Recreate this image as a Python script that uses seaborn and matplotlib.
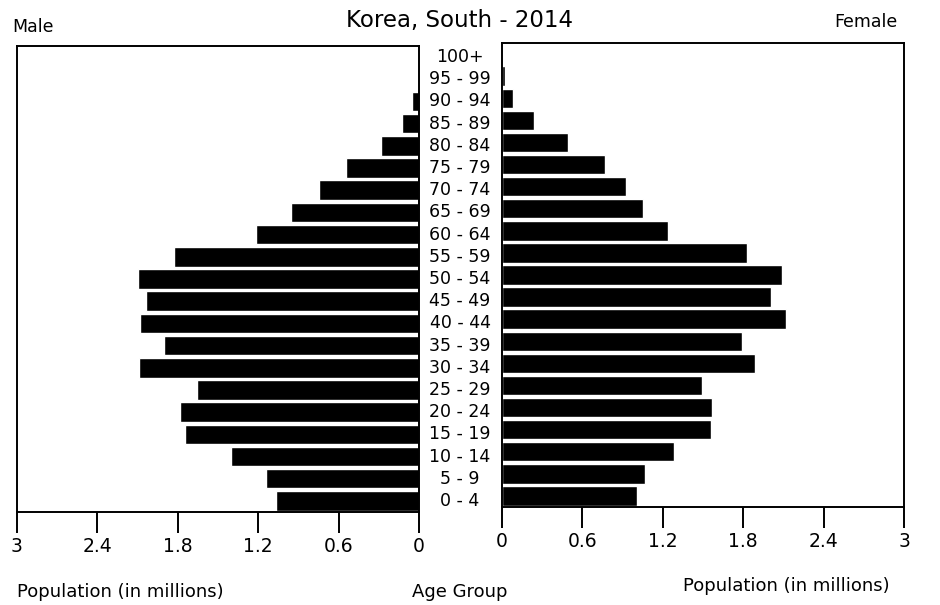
import matplotlib
matplotlib.use("Agg")
import matplotlib.pyplot as plt
import matplotlib.transforms as mtransforms
import seaborn as sns

# Population pyramid data (millions), youngest first
age_groups = ["0 - 4", "5 - 9", "10 - 14", "15 - 19", "20 - 24", "25 - 29",
              "30 - 34", "35 - 39", "40 - 44", "45 - 49", "50 - 54", "55 - 59",
              "60 - 64", "65 - 69", "70 - 74", "75 - 79", "80 - 84", "85 - 89",
              "90 - 94", "95 - 99", "100+"]
male = [1.07, 1.14, 1.40, 1.75, 1.78, 1.66, 2.09, 1.90, 2.08, 2.04, 2.10, 1.83,
        1.22, 0.955, 0.746, 0.545, 0.286, 0.125, 0.054, 0.008, 0.001]
female = [1.01, 1.07, 1.28, 1.56, 1.57, 1.49, 1.89, 1.79, 2.12, 2.01, 2.09, 1.83,
          1.24, 1.05, 0.925, 0.77, 0.49, 0.24, 0.08, 0.02, 0.003]
tick_vals = [0, 0.6, 1.2, 1.8, 2.4, 3]
tick_labels = ["0", "0.6", "1.2", "1.8", "2.4", "3"]

sns.set_style("ticks")
plt.rcParams['font.family'] = ['DejaVu Sans']
plt.rcParams['text.color'] = 'black'
plt.rcParams['xtick.color'] = 'black'
plt.rcParams['xtick.labelcolor'] = 'black'

order = age_groups[::-1]  # top row is 100+

fig = plt.figure(figsize=(9.4, 6.05), dpi=100)
ax_m = fig.add_axes([17 / 940, 1 - 512 / 605, 402 / 940, 466 / 605])
ax_f = fig.add_axes([502 / 940, 1 - 507 / 605, 402 / 940, 464 / 605])

sns.barplot(x=male, y=age_groups, order=order, orient="h", color="black",
            width=0.88, ax=ax_m, saturation=1)
sns.barplot(x=female, y=age_groups, order=order, orient="h", color="black",
            width=0.88, ax=ax_f, saturation=1)

ax_m.set_xlim(3, 0)
ax_f.set_xlim(0, 3)
for ax in (ax_m, ax_f):
    ax.set_ylim(len(age_groups) - 0.5, -0.5)
    ax.set_xticks(tick_vals)
    ax.set_xticklabels(tick_labels)
    ax.set_yticks([])
    ax.set_xlabel("")
    ax.set_ylabel("")
    ax.tick_params(axis="x", length=15, width=1.4, labelsize=13.5, pad=3, color="black")
    for sp in ax.spines.values():
        sp.set_visible(True)
        sp.set_linewidth(1.4)
        sp.set_color("black")

# age group labels in the gap between the two panels
trans = mtransforms.blended_transform_factory(fig.transFigure, ax_m.transData)
for i, lab in enumerate(order):
    ax_m.text(460 / 940, i, lab, transform=trans, ha="center", va="center",
              fontsize=12.5, clip_on=False)

fig.text(459 / 940, 1 - 20 / 605, "Korea, South - 2014", ha="center", va="center", fontsize=16.5)
fig.text(12 / 940, 1 - 27 / 605, "Male", ha="left", va="center", fontsize=12.5)
fig.text(898 / 940, 1 - 22 / 605, "Female", ha="right", va="center", fontsize=12.5)
fig.text(17 / 940, 1 - 592 / 605, "Population (in millions)", ha="left", va="center", fontsize=13)
fig.text(460 / 940, 1 - 592 / 605, "Age Group", ha="center", va="center", fontsize=13)
fig.text(890 / 940, 1 - 586 / 605, "Population (in millions)", ha="right", va="center", fontsize=13)

fig.savefig("out.png", dpi=100)
